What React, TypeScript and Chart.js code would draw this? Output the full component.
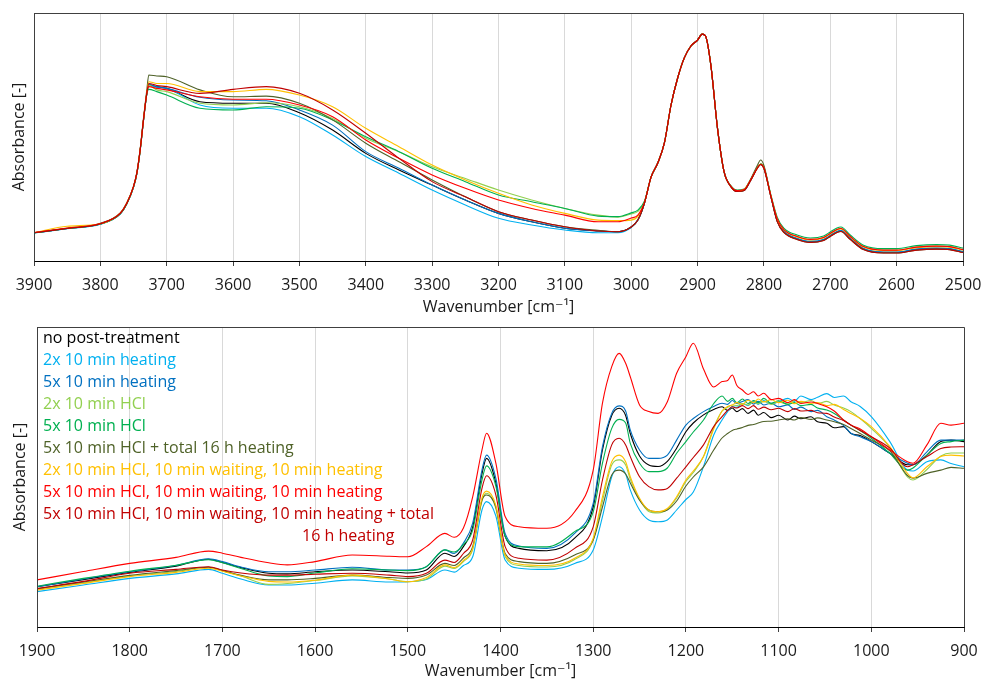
import React, { useEffect, useRef } from "react";
import { Chart, registerables } from "chart.js";

Chart.register(...registerables);

const FONT = "'Open Sans', 'DejaVu Sans', sans-serif";
const FONT_SIZE = 16;
const TEXT_COLOR = "#1a1a1a";
const GRID_COLOR = "#D9D9D9";
const FRAME_COLOR = "#404040";

const SERIES_LABELS = [
  "no post-treatment",
  "2x 10 min heating",
  "5x 10 min heating",
  "2x 10 min HCl",
  "5x 10 min HCl",
  "5x 10 min HCl + total 16 h heating",
  "2x 10 min HCl, 10 min waiting, 10 min heating",
  "5x 10 min HCl, 10 min waiting, 10 min heating",
  "5x 10 min HCl, 10 min waiting, 10 min heating + total 16 h heating",
];
const LEGEND_LINES = [
  ["no post-treatment"],
  ["2x 10 min heating"],
  ["5x 10 min heating"],
  ["2x 10 min HCl"],
  ["5x 10 min HCl"],
  ["5x 10 min HCl + total 16 h heating"],
  ["2x 10 min HCl, 10 min waiting, 10 min heating"],
  ["5x 10 min HCl, 10 min waiting, 10 min heating"],
  ["5x 10 min HCl, 10 min waiting, 10 min heating + total", "16 h heating"],
];
const SERIES_COLORS = [
  "#000000",
  "#00B0F0",
  "#0070C0",
  "#92D050",
  "#00B050",
  "#4F6228",
  "#FFC000",
  "#FF0000",
  "#C00000",
];

// ---------- upper panel (3900 - 2500 cm-1) ----------
const TOP_WN = [3900,3850,3800,3770,3760,3750,3745,3740,3735,3730,3727,3715,3700,3650,3600,3550,3500,3450,3400,3350,3300,3250,3200,3150,3100,3050,3020,3000,2990,2980,2970,2960,2950,2940,2930,2920,2910,2900,2893,2888,2880,2870,2860,2850,2840,2830,2820,2810,2805,2800,2790,2780,2770,2750,2730,2710,2700,2690,2684,2670,2650,2620,2600,2570,2540,2520,2500];

const TOP_BLACK = [.114,.131,.149,.190,.232,.298,.352,.445,.566,.674,.710,.703,.696,.642,.636,.636,.598,.528,.434,.367,.306,.246,.192,.158,.132,.121,.118,.137,.165,.234,.339,.395,.476,.629,.738,.819,.867,.891,.915,.907,.790,.536,.359,.302,.280,.284,.325,.375,.391,.375,.266,.161,.117,.089,.077,.085,.101,.117,.121,.089,.048,.034,.034,.046,.050,.048,.036];
const TOP_LIGHTBLUE = [.113,.130,.148,.190,.231,.297,.352,.446,.567,.675,.710,.700,.696,.629,.616,.616,.582,.508,.421,.354,.286,.226,.172,.145,.125,.114,.114,.135,.165,.234,.339,.395,.476,.629,.738,.819,.867,.891,.915,.907,.790,.536,.359,.302,.282,.286,.327,.375,.389,.375,.266,.163,.119,.091,.079,.087,.103,.119,.123,.091,.050,.036,.036,.048,.052,.050,.038];
const TOP_BLUE = [.114,.131,.150,.191,.232,.299,.353,.447,.568,.676,.711,.703,.696,.660,.649,.646,.609,.548,.441,.374,.306,.246,.192,.158,.132,.121,.118,.137,.165,.234,.339,.395,.476,.629,.738,.819,.867,.891,.915,.907,.790,.536,.359,.302,.282,.286,.327,.375,.391,.375,.266,.163,.119,.091,.079,.087,.103,.119,.123,.091,.050,.036,.036,.048,.052,.050,.038];
const TOP_LIGHTGREEN = [.114,.132,.150,.192,.233,.300,.354,.448,.569,.676,.708,.690,.683,.636,.629,.638,.622,.575,.495,.441,.380,.333,.286,.246,.212,.185,.177,.190,.200,.238,.339,.395,.476,.629,.738,.819,.867,.891,.915,.907,.790,.536,.359,.302,.284,.288,.327,.375,.391,.375,.268,.171,.127,.099,.087,.095,.111,.127,.131,.099,.058,.044,.044,.056,.060,.058,.046];
const TOP_GREEN = [.113,.131,.149,.190,.231,.298,.352,.446,.567,.672,.692,.683,.669,.616,.609,.622,.616,.569,.501,.441,.374,.320,.266,.239,.212,.181,.179,.194,.205,.242,.339,.395,.476,.629,.738,.819,.867,.891,.915,.907,.790,.536,.359,.304,.286,.290,.329,.377,.391,.377,.272,.177,.133,.105,.093,.101,.117,.133,.137,.105,.064,.050,.050,.062,.066,.064,.052];
const TOP_OLIVE = [.114,.132,.152,.194,.236,.302,.357,.452,.575,.690,.750,.746,.743,.690,.662,.665,.636,.569,.475,.400,.327,.259,.199,.165,.138,.124,.118,.137,.165,.234,.339,.395,.476,.629,.738,.819,.867,.891,.915,.907,.790,.536,.359,.300,.280,.284,.330,.385,.407,.385,.268,.160,.115,.087,.075,.083,.099,.115,.119,.087,.046,.032,.032,.044,.048,.046,.034];
const TOP_YELLOW = [.114,.140,.150,.193,.234,.300,.354,.448,.570,.680,.723,.716,.716,.683,.683,.692,.669,.622,.535,.461,.387,.327,.273,.226,.192,.165,.163,.165,.180,.236,.339,.395,.476,.629,.738,.819,.867,.891,.915,.907,.790,.536,.359,.302,.282,.288,.327,.375,.391,.375,.268,.169,.125,.097,.085,.093,.109,.125,.129,.097,.056,.042,.042,.054,.058,.056,.044];
const TOP_RED = [.115,.133,.151,.193,.234,.301,.355,.449,.570,.677,.703,.696,.690,.662,.652,.652,.629,.582,.488,.414,.347,.293,.246,.212,.185,.158,.158,.173,.185,.236,.339,.395,.476,.629,.738,.819,.867,.891,.915,.907,.790,.536,.359,.302,.284,.288,.327,.375,.389,.375,.268,.171,.127,.099,.087,.095,.111,.127,.131,.099,.058,.044,.044,.056,.060,.058,.046];
const TOP_DARKRED = [.114,.131,.150,.192,.233,.300,.354,.448,.569,.676,.716,.708,.703,.676,.692,.703,.676,.609,.515,.414,.320,.259,.199,.165,.138,.121,.118,.137,.165,.234,.339,.395,.476,.629,.738,.819,.867,.891,.915,.907,.790,.536,.359,.300,.280,.284,.325,.373,.389,.373,.264,.159,.115,.087,.075,.083,.099,.115,.119,.087,.046,.032,.032,.044,.048,.046,.034];

// ---------- lower panel (1900 - 900 cm-1) ----------
const BOT_WN = [1900,1850,1800,1750,1715,1700,1680,1650,1630,1600,1560,1520,1500,1480,1460,1450,1440,1430,1420,1415,1405,1395,1380,1350,1320,1300,1290,1280,1272,1265,1260,1250,1240,1230,1220,1210,1200,1192,1181,1170,1161,1155,1150,1145,1139,1133,1127,1122,1116,1108,1100,1090,1083,1076,1065,1058,1048,1040,1030,1022,1012,1000,980,961,955,940,925,914,900];

const BOT_BLACK = [.134,.158,.182,.203,.226,.215,.198,.179,.177,.184,.190,.184,.180,.190,.246,.235,.268,.333,.510,.562,.480,.302,.262,.254,.296,.400,.590,.705,.729,.705,.645,.570,.540,.535,.552,.596,.651,.680,.707,.725,.734,.722,.730,.718,.728,.712,.723,.706,.715,.698,.706,.690,.703,.694,.701,.684,.679,.664,.668,.645,.638,.618,.579,.541,.541,.573,.618,.623,.618];
const BOT_LIGHTBLUE = [.118,.140,.162,.177,.192,.179,.160,.140,.140,.146,.157,.150,.151,.158,.190,.183,.205,.234,.390,.418,.370,.223,.196,.192,.212,.257,.368,.501,.534,.510,.457,.390,.357,.351,.357,.390,.425,.450,.535,.640,.690,.718,.735,.732,.745,.738,.752,.742,.755,.744,.751,.762,.752,.770,.758,.766,.778,.765,.770,.751,.735,.701,.618,.523,.520,.551,.557,.545,.534];
const BOT_BLUE = [.134,.160,.184,.205,.227,.218,.200,.184,.184,.190,.199,.190,.190,.201,.257,.245,.280,.346,.523,.573,.495,.312,.270,.262,.312,.412,.601,.712,.737,.720,.657,.590,.562,.562,.573,.623,.673,.695,.718,.735,.746,.742,.755,.745,.752,.758,.743,.752,.740,.746,.734,.740,.725,.733,.718,.722,.701,.690,.672,.646,.634,.618,.579,.546,.541,.584,.623,.623,.623];
const BOT_LIGHTGREEN = [.125,.147,.170,.185,.199,.188,.170,.142,.145,.155,.170,.160,.151,.160,.203,.195,.218,.258,.420,.446,.395,.235,.205,.200,.225,.290,.420,.540,.557,.540,.492,.425,.385,.380,.392,.430,.485,.515,.568,.665,.720,.732,.740,.738,.745,.740,.750,.744,.752,.742,.750,.742,.755,.748,.755,.745,.752,.740,.730,.718,.695,.662,.598,.500,.490,.525,.570,.580,.580];
const BOT_GREEN = [.136,.162,.186,.206,.224,.214,.195,.170,.168,.180,.194,.190,.188,.201,.257,.250,.275,.323,.490,.537,.470,.302,.268,.267,.318,.384,.546,.662,.692,.680,.612,.546,.518,.518,.530,.579,.618,.650,.690,.745,.770,.752,.762,.748,.760,.745,.755,.748,.762,.746,.754,.742,.748,.738,.742,.730,.723,.712,.690,.673,.655,.629,.579,.523,.530,.573,.612,.618,.623];
const BOT_OLIVE = [.128,.150,.172,.188,.199,.188,.172,.157,.157,.162,.173,.165,.162,.173,.212,.205,.230,.268,.423,.440,.400,.245,.218,.212,.240,.290,.400,.507,.523,.510,.480,.423,.390,.384,.390,.420,.470,.500,.534,.590,.630,.645,.655,.660,.665,.672,.675,.680,.685,.686,.690,.694,.690,.698,.692,.697,.690,.684,.675,.662,.645,.623,.587,.505,.496,.512,.523,.532,.529];
const BOT_YELLOW = [.123,.145,.168,.182,.196,.186,.170,.152,.150,.156,.173,.160,.151,.165,.207,.198,.222,.262,.430,.453,.405,.240,.210,.205,.229,.296,.434,.551,.573,.551,.501,.429,.390,.384,.395,.434,.490,.520,.568,.660,.720,.735,.740,.748,.742,.756,.748,.760,.750,.758,.748,.756,.744,.752,.745,.748,.738,.742,.725,.712,.695,.668,.601,.512,.497,.534,.568,.573,.570];
const BOT_RED = [.157,.185,.212,.232,.253,.246,.232,.214,.207,.218,.240,.236,.234,.268,.312,.299,.330,.434,.590,.646,.546,.368,.334,.329,.384,.523,.746,.868,.912,.879,.834,.740,.718,.712,.751,.846,.901,.946,.860,.800,.818,.822,.840,.805,.790,.775,.784,.770,.779,.758,.762,.748,.758,.745,.750,.745,.734,.720,.690,.673,.660,.634,.590,.551,.546,.607,.679,.673,.679];
const BOT_DARKRED = [.128,.152,.179,.192,.201,.190,.180,.173,.173,.176,.179,.173,.168,.179,.223,.215,.245,.290,.462,.504,.440,.268,.229,.223,.262,.334,.490,.607,.629,.607,.568,.501,.468,.457,.462,.496,.534,.565,.607,.668,.701,.722,.734,.730,.738,.728,.738,.726,.733,.724,.729,.718,.728,.720,.722,.714,.712,.700,.688,.673,.655,.634,.596,.534,.541,.568,.595,.600,.601];

const TOP_SERIES = [TOP_BLACK, TOP_LIGHTBLUE, TOP_BLUE, TOP_LIGHTGREEN, TOP_GREEN, TOP_OLIVE, TOP_YELLOW, TOP_RED, TOP_DARKRED];
const BOT_SERIES = [BOT_BLACK, BOT_LIGHTBLUE, BOT_BLUE, BOT_LIGHTGREEN, BOT_GREEN, BOT_OLIVE, BOT_YELLOW, BOT_RED, BOT_DARKRED];

const TOP_RANGE = { min: 2500, max: 3900 };
const BOT_RANGE = { min: 900, max: 1900 };

const framePlugin = {
  id: "frameBox",
  afterDraw(chart: any) {
    const { ctx, chartArea } = chart;
    const l = Math.round(chartArea.left) + 0.5;
    const t = Math.round(chartArea.top) + 0.5;
    const r = Math.round(chartArea.right) + 0.5;
    const b = Math.round(chartArea.bottom) + 0.5;
    ctx.save();
    ctx.strokeStyle = FRAME_COLOR;
    ctx.lineWidth = 1;
    ctx.beginPath();
    ctx.moveTo(l, b);
    ctx.lineTo(l, t);
    ctx.lineTo(r, t);
    ctx.lineTo(r, b);
    ctx.stroke();
    ctx.strokeStyle = "#000";
    ctx.beginPath();
    ctx.moveTo(l, b);
    ctx.lineTo(r, b);
    ctx.stroke();
    ctx.restore();
  },
};

const textLegendPlugin = {
  id: "textLegend",
  afterDraw(chart: any) {
    const { ctx, chartArea } = chart;
    ctx.save();
    ctx.font = `${FONT_SIZE}px ${FONT}`;
    ctx.textBaseline = "middle";
    ctx.textAlign = "left";
    const x0 = chartArea.left + 6;
    let y = chartArea.top + 11.5;
    const step = 22;
    LEGEND_LINES.forEach((lines, i) => {
      ctx.fillStyle = SERIES_COLORS[i];
      lines.forEach((line, j) => {
        const x = j === 0 ? x0 : x0 + 259;
        ctx.fillText(line, x, y);
        y += step;
      });
    });
    ctx.restore();
  },
};

function buildConfig(wn: number[], series: number[][], range: { min: number; max: number }, dims: any, withLegend: boolean) {
  const datasets = series.map((vals, i) => ({
    label: SERIES_LABELS[i],
    data: wn.map((x, k) => ({ x, y: vals[k] })),
    borderColor: SERIES_COLORS[i],
    backgroundColor: SERIES_COLORS[i],
    borderWidth: 1.1,
    pointRadius: 0,
    fill: false,
    cubicInterpolationMode: "monotone",
    order: series.length - i,
  }));
  return {
    type: "line",
    data: { datasets },
    options: {
      responsive: false,
      maintainAspectRatio: false,
      animation: false,
      layout: { padding: { top: dims.padTop, right: dims.padRight, left: 0, bottom: 0 } },
      plugins: { legend: { display: false }, tooltip: { enabled: false } },
      scales: {
        x: {
          type: "linear",
          reverse: true,
          min: range.min,
          max: range.max,
          afterFit: (s: any) => {
            s.height = dims.xHeight;
            s.paddingLeft = 0;
            s.paddingRight = 0;
          },
          grid: { color: GRID_COLOR, lineWidth: 1, drawTicks: true, tickLength: 5, tickColor: "#404040" },
          border: { display: true, color: "#000" },
          ticks: {
            stepSize: 100,
            autoSkip: false,
            maxRotation: 0,
            padding: dims.tickPad,
            color: TEXT_COLOR,
            font: { family: FONT, size: FONT_SIZE },
            callback: (v: any) => String(v),
          },
          title: {
            display: true,
            text: "Wavenumber [cm\u207B\u00B9]",
            color: TEXT_COLOR,
            font: { family: FONT, size: FONT_SIZE },
            padding: { top: 0, bottom: dims.titlePadBottom },
          },
        },
        y: {
          type: "linear",
          min: 0,
          max: 1,
          afterFit: (s: any) => {
            s.width = dims.yWidth;
            s.paddingTop = 0;
            s.paddingBottom = 0;
          },
          grid: { display: false, drawTicks: false },
          border: { display: true, color: FRAME_COLOR },
          ticks: { display: false },
          title: {
            display: true,
            text: "Absorbance [-]",
            color: TEXT_COLOR,
            font: { family: FONT, size: FONT_SIZE },
            padding: { top: dims.yTitlePad, bottom: 0 },
          },
        },
      },
    },
    plugins: withLegend ? [framePlugin, textLegendPlugin] : [framePlugin],
  } as any;
}

function ChartCanvas(props: { width: number; height: number; top: number; config: () => any }) {
  const ref = useRef<HTMLCanvasElement | null>(null);
  useEffect(() => {
    if (!ref.current) return;
    const chart = new Chart(ref.current, props.config());
    return () => chart.destroy();
  }, []);
  return (
    <canvas
      ref={ref}
      width={props.width}
      height={props.height}
      style={{ position: "absolute", left: 0, top: props.top, width: props.width, height: props.height }}
    />
  );
}

export default function App() {
  return (
    <div style={{ position: "fixed", left: 0, top: 0, width: 982, height: 682, background: "#fff" }}>
      <ChartCanvas
        width={982}
        height={320}
        top={0}
        config={() =>
          buildConfig(TOP_WN, TOP_SERIES, TOP_RANGE, { padTop: 13, padRight: 19, xHeight: 59, yWidth: 34, tickPad: 9.5, titlePadBottom: 2.5, yTitlePad: 9.5 }, false)
        }
      />
      <ChartCanvas
        width={982}
        height={362}
        top={320}
        config={() =>
          buildConfig(BOT_WN, BOT_SERIES, BOT_RANGE, { padTop: 7, padRight: 18, xHeight: 55, yWidth: 37, tickPad: 9.5, titlePadBottom: 0.5, yTitlePad: 10.5 }, true)
        }
      />
    </div>
  );
}
